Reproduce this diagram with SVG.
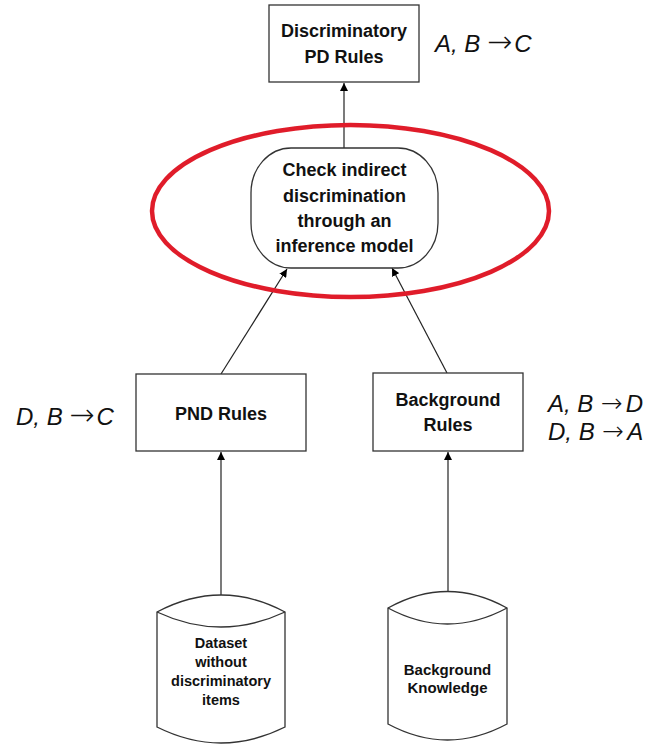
<svg xmlns="http://www.w3.org/2000/svg" width="656" height="745" viewBox="0 0 656 745">
<defs>
<marker id="ah" viewBox="0 0 10 10" refX="10" refY="5" markerWidth="8" markerHeight="8" markerUnits="userSpaceOnUse" orient="auto">
<path d="M0,0 L10,5 L0,10 Z" fill="#000"/>
</marker>
<filter id="soft" x="-5%" y="-5%" width="110%" height="110%">
<feGaussianBlur stdDeviation="0.7"/>
</filter>
</defs>
<style>
.box{fill:#fff;stroke:#333;stroke-width:1.3}
.lbl{font-family:"Liberation Sans",Arial,sans-serif;font-weight:bold;font-size:18px;fill:#111;text-anchor:middle}
.sm{font-size:15px}
.xs{font-size:14.5px}
.rule{font-family:"Liberation Sans",Arial,sans-serif;font-style:italic;font-size:24px;fill:#111}
.arr{font-family:"DejaVu Sans",sans-serif;font-weight:200;font-style:normal;font-size:30px}
.arr2{font-family:"DejaVu Sans",sans-serif;font-weight:200;font-style:normal;font-size:26px}
.conn{stroke:#222;stroke-width:1.2;fill:none;marker-end:url(#ah)}
</style>
<rect width="656" height="745" fill="#fff"/>
<g id="connectors">
<line class="conn" x1="344" y1="148" x2="344" y2="83"/>
<line class="conn" x1="221" y1="374" x2="287" y2="269"/>
<line class="conn" x1="447" y1="373" x2="392" y2="268"/>
<line class="conn" x1="221" y1="595" x2="221" y2="452"/>
<line class="conn" x1="448" y1="592" x2="448" y2="452"/>
</g>
<g id="pd-rules">
<rect class="box" x="269" y="5" width="150" height="77"/>
<text class="lbl" x="344" y="37">Discriminatory</text>
<text class="lbl" x="344" y="63">PD Rules</text>
</g>
<text class="rule" x="435" y="52">A, B <tspan class="arr">→</tspan><tspan dx="2">C</tspan></text>
<g id="check">
<rect class="box" x="251" y="148" width="187" height="120" rx="40" ry="45"/>
<text class="lbl" x="344.5" y="176">Check indirect</text>
<text class="lbl" x="344.5" y="202">discrimination</text>
<text class="lbl" x="344.5" y="227">through an</text>
<text class="lbl" x="344.5" y="252">inference model</text>
</g>
<ellipse id="highlight" cx="350.5" cy="211" rx="198.5" ry="86" fill="none" stroke="#e01f2b" stroke-width="4.5" filter="url(#soft)"/>
<g id="pnd-rules">
<rect class="box" x="136" y="374" width="170" height="77"/>
<text class="lbl" x="221" y="420">PND Rules</text>
</g>
<text class="rule" x="16" y="425">D, B <tspan class="arr">→</tspan><tspan dx="2">C</tspan></text>
<g id="background-rules">
<rect class="box" x="373" y="373" width="150" height="78"/>
<text class="lbl" x="448" y="406">Background</text>
<text class="lbl" x="448" y="431">Rules</text>
</g>
<text class="rule" x="548" y="412">A, B <tspan class="arr2" dx="1">→</tspan><tspan dx="3">D</tspan></text>
<text class="rule" x="548" y="440">D, B <tspan class="arr2" dx="1">→</tspan><tspan dx="3">A</tspan></text>
<g id="dataset">
<path class="box" d="M157,612 Q221,578 285,612 L285,727 Q221,759 157,727 Z"/>
<path d="M157,612 Q221,642 285,612" fill="none" stroke="#333" stroke-width="1.3"/>
<text class="lbl xs" x="221" y="648">Dataset</text>
<text class="lbl xs" x="221" y="667">without</text>
<text class="lbl xs" x="221" y="686">discriminatory</text>
<text class="lbl xs" x="221" y="705">items</text>
</g>
<g id="background-knowledge">
<path class="box" d="M388,608 Q447.5,575 507,608 L507,724 Q447.5,756 388,724 Z"/>
<path d="M388,608 Q447.5,640 507,608" fill="none" stroke="#333" stroke-width="1.3"/>
<text class="lbl sm" x="447.5" y="675">Background</text>
<text class="lbl sm" x="447.5" y="693">Knowledge</text>
</g>
</svg>
